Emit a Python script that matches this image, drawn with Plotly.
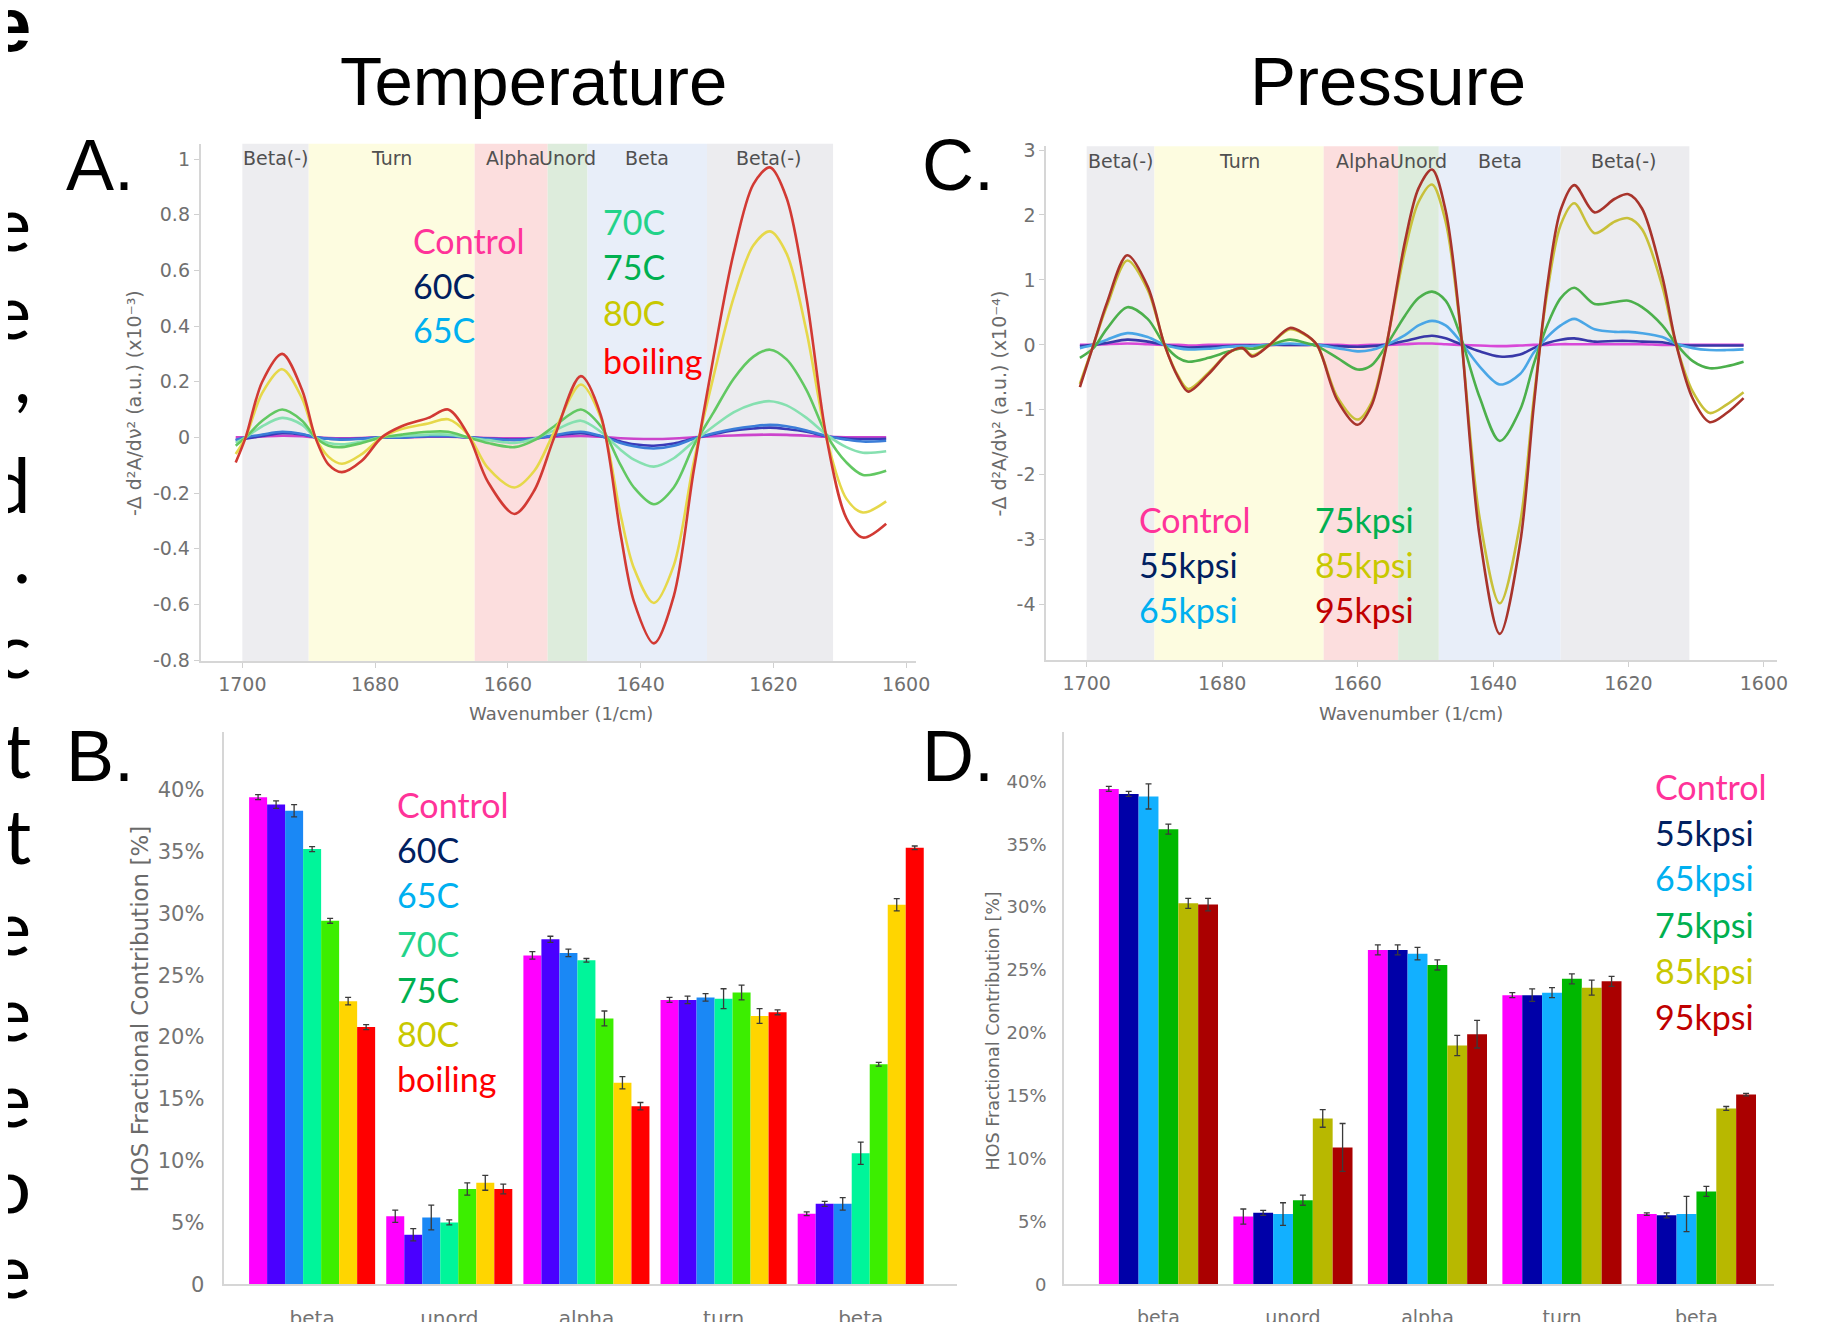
import plotly.graph_objects as go

W, H = 1840, 1322

# ---------------- DATA ----------------
WN_A = [1701, 1699.5, 1697, 1694, 1691, 1689, 1687, 1685, 1682, 1679, 1676, 1672, 1669, 1666, 1663, 1659,
        1656, 1653, 1649, 1646, 1643, 1641, 1638, 1635, 1632, 1629, 1626, 1623, 1620.5, 1618, 1615, 1612,
        1609, 1606.5, 1603]
temp_names = ["Control", "60C", "65C", "70C", "75C", "80C", "boiling"]
spec_control_T = [0.0, 0.0, 0.003, 0.006, 0.004, 0.0, -0.002, -0.003, -0.002, 0.0, 0.0, 0.002, 0.002, 0.0, -0.002,
                  -0.003, -0.002, 0.002, 0.005, 0.002, -0.003, -0.005, -0.006, -0.004, 0.0, 0.004, 0.007, 0.009,
                  0.01, 0.009, 0.006, 0.002, 0.0, 0.0, 0.0]
spec_60C = [-0.01, -0.005, 0.005, 0.015, 0.01, 0.0, -0.005, -0.006, -0.004, 0.0, 0.0, 0.004, 0.004, 0.0, -0.004,
            -0.008, -0.004, 0.006, 0.015, 0.004, -0.015, -0.025, -0.03, -0.022, -0.004, 0.012, 0.025, 0.032,
            0.035, 0.03, 0.02, 0.004, -0.004, -0.006, -0.005]
spec_65C = [-0.01, 0.0, 0.01, 0.02, 0.012, 0.0, -0.005, -0.008, -0.005, 0.0, 0.0, 0.005, 0.005, 0.0, -0.005,
            -0.01, -0.005, 0.008, 0.02, 0.005, -0.02, -0.032, -0.04, -0.03, -0.005, 0.015, 0.03, 0.04, 0.045,
            0.04, 0.025, 0.005, -0.008, -0.015, -0.012]
spec_70C = [-0.02, 0.0, 0.04, 0.07, 0.045, 0.0, -0.02, -0.025, -0.015, 0.0, 0.005, 0.01, 0.01, 0.0, -0.01,
            -0.02, -0.005, 0.025, 0.06, 0.02, -0.045, -0.08, -0.105, -0.075, -0.015, 0.04, 0.09, 0.12, 0.13,
            0.115, 0.07, 0.01, -0.035, -0.055, -0.05]
spec_75C = [-0.03, 0.0, 0.06, 0.10, 0.06, 0.0, -0.03, -0.035, -0.02, 0.0, 0.01, 0.02, 0.02, 0.0, -0.02, -0.035,
            -0.01, 0.04, 0.10, 0.04, -0.10, -0.18, -0.24, -0.18, -0.03, 0.09, 0.21, 0.29, 0.315, 0.28, 0.17,
            0.01, -0.09, -0.135, -0.12]
spec_80C = [-0.06, 0.0, 0.16, 0.245, 0.14, 0.0, -0.07, -0.095, -0.06, 0.0, 0.03, 0.05, 0.065, 0.01, -0.11,
            -0.18, -0.12, 0.02, 0.19, 0.07, -0.28, -0.47, -0.595, -0.46, -0.09, 0.22, 0.50, 0.69, 0.74, 0.66,
            0.38, 0.0, -0.22, -0.27, -0.23]
spec_boiling = [-0.09, 0.0, 0.20, 0.30, 0.17, 0.0, -0.098, -0.125, -0.084, 0.0, 0.04, 0.07, 0.10, 0.01, -0.16,
                -0.275, -0.19, 0.0, 0.22, 0.08, -0.35, -0.59, -0.74, -0.57, -0.12, 0.29, 0.66, 0.91, 0.97, 0.86,
                0.50, 0.0, -0.29, -0.36, -0.31]

WN_C = [1701, 1699, 1697, 1694, 1691, 1688.5, 1686.5, 1685, 1682, 1679, 1677, 1675.5, 1673, 1670, 1668, 1666,
        1663, 1660, 1658, 1656, 1653, 1651, 1649, 1647, 1645, 1642, 1639, 1636, 1634, 1632, 1630, 1628, 1625,
        1622, 1620, 1618, 1615, 1613, 1610.5, 1608, 1605.5, 1603]
pres_names = ["Control", "55kpsi", "65kpsi", "75kpsi", "85kpsi", "95kpsi"]
spec_control_P = [0.0, 0.0, 0.01, 0.02, 0.01, 0.0, 0.0, -0.01, 0.0, 0.0, 0.0, 0.0, 0.0, 0.0, 0.0, 0.0, 0.0, -0.01,
                  0.0, 0.0, 0.01, 0.02, 0.02, 0.01, 0.0, -0.01, -0.02, -0.01, 0.0, 0.0, 0.01, 0.01, 0.01, 0.01,
                  0.01, 0.01, 0.0, 0.0, 0.0, 0.0, 0.0, 0.0]
spec_55 = [-0.02, 0.0, 0.03, 0.08, 0.05, 0.0, -0.03, -0.04, -0.03, -0.02, -0.01, -0.01, 0.0, 0.0, 0.0, 0.0, -0.02,
           -0.03, -0.02, 0.0, 0.06, 0.11, 0.14, 0.1, 0.02, -0.1, -0.18, -0.15, -0.05, 0.03, 0.08, 0.1, 0.05, 0.06,
           0.06, 0.05, 0.04, 0.0, -0.01, -0.01, -0.01, -0.01]
spec_65 = [-0.05, 0.0, 0.08, 0.18, 0.12, 0.0, -0.05, -0.07, -0.06, -0.03, -0.02, -0.02, 0.0, 0.02, 0.01, 0.0, -0.05,
           -0.1, -0.08, -0.01, 0.15, 0.3, 0.37, 0.3, 0.08, -0.33, -0.61, -0.45, -0.12, 0.12, 0.3, 0.4, 0.24, 0.2,
           0.2, 0.18, 0.12, 0.02, -0.05, -0.08, -0.08, -0.07]
spec_75 = [-0.2, -0.05, 0.25, 0.58, 0.4, 0.0, -0.2, -0.26, -0.2, -0.1, -0.05, -0.06, 0.0, 0.08, 0.04, -0.02, -0.2,
           -0.38, -0.32, -0.05, 0.45, 0.72, 0.82, 0.68, 0.2, -0.8, -1.48, -1.0, -0.3, 0.3, 0.72, 0.88, 0.63, 0.66,
           0.68, 0.58, 0.3, 0.02, -0.25, -0.36, -0.33, -0.26]
spec_85 = [-0.6, 0.0, 0.6, 1.3, 0.85, 0.0, -0.48, -0.68, -0.43, -0.12, -0.05, -0.16, 0.0, 0.24, 0.17, 0.0, -0.8,
           -1.15, -0.9, -0.12, 1.45, 2.2, 2.47, 1.9, 0.42, -2.65, -3.98, -2.75, -0.85, 0.8, 1.85, 2.18, 1.72, 1.9,
           1.95, 1.78, 0.9, 0.02, -0.72, -1.05, -0.92, -0.73]
spec_95 = [-0.65, 0.0, 0.65, 1.38, 0.9, 0.0, -0.5, -0.72, -0.45, -0.12, -0.05, -0.18, 0.0, 0.26, 0.18, 0.0, -0.85,
           -1.23, -0.95, -0.15, 1.59, 2.41, 2.7, 2.07, 0.47, -2.93, -4.45, -3.06, -0.96, 0.9, 2.08, 2.46, 2.04,
           2.25, 2.32, 2.1, 1.05, 0.03, -0.83, -1.19, -1.05, -0.82]

band_names = ["Beta(-)", "Turn", "Alpha", "Unord", "Beta", "Beta(-)"]
band_edges = [(1700, 1690), (1690, 1665), (1665, 1654), (1654, 1648), (1648, 1630), (1630, 1611)]
band_label_pos = [1695, 1677.5, 1659.2, 1651.0, 1639, 1620.6]

categories = ["beta", "unord", "alpha", "turn", "beta"]
temp_frac = {
    "Control": [39.4, 5.5, 26.6, 23.0, 5.7],
    "60C": [38.8, 4.0, 27.9, 23.0, 6.5],
    "65C": [38.3, 5.4, 26.8, 23.2, 6.5],
    "70C": [35.2, 5.0, 26.2, 23.1, 10.6],
    "75C": [29.4, 7.7, 21.5, 23.6, 17.8],
    "80C": [22.9, 8.2, 16.3, 21.7, 30.7],
    "boiling": [20.8, 7.7, 14.4, 22.0, 35.3],
}
temp_err = {
    "Control": [0.2, 0.5, 0.3, 0.2, 0.15],
    "60C": [0.3, 0.5, 0.25, 0.3, 0.2],
    "65C": [0.5, 1.0, 0.3, 0.3, 0.5],
    "70C": [0.2, 0.2, 0.15, 0.8, 0.9],
    "75C": [0.2, 0.5, 0.6, 0.6, 0.15],
    "80C": [0.3, 0.6, 0.5, 0.6, 0.5],
    "boiling": [0.2, 0.4, 0.3, 0.2, 0.15],
}
pres_frac = {
    "Control": [39.4, 5.4, 26.6, 23.0, 5.6],
    "55kpsi": [39.0, 5.7, 26.6, 23.0, 5.5],
    "65kpsi": [38.8, 5.6, 26.3, 23.2, 5.6],
    "75kpsi": [36.2, 6.7, 25.4, 24.3, 7.4],
    "85kpsi": [30.3, 13.2, 19.0, 23.6, 14.0],
    "95kpsi": [30.2, 10.9, 19.9, 24.1, 15.1],
}
pres_err = {
    "Control": [0.2, 0.6, 0.4, 0.2, 0.1],
    "55kpsi": [0.2, 0.2, 0.4, 0.5, 0.2],
    "65kpsi": [1.0, 0.9, 0.5, 0.4, 1.4],
    "75kpsi": [0.4, 0.4, 0.4, 0.4, 0.4],
    "85kpsi": [0.4, 0.7, 0.8, 0.6, 0.15],
    "95kpsi": [0.5, 1.9, 1.1, 0.4, 0.1],
}

# ---------------- STYLE ----------------
TEXT_T = {"Control": "#ff3399", "60C": "#002060", "65C": "#00b0f0", "70C": "#22d38a",
          "75C": "#00b050", "80C": "#c8c800", "boiling": "#ff0000"}
TEXT_P = {"Control": "#ff3399", "55kpsi": "#002060", "65kpsi": "#00b0f0", "75kpsi": "#00b050",
          "85kpsi": "#c8c800", "95kpsi": "#c00000"}
LINE_T = {"Control": "#cc44cc", "60C": "#3a3ab8", "65C": "#3b7dd8", "70C": "#86e0b0",
          "75C": "#62c862", "80C": "#e6d84a", "boiling": "#d23a34"}
LINE_P = {"Control": "#d848d8", "55kpsi": "#3838a8", "65kpsi": "#4aa6e6", "75kpsi": "#4cb04c",
          "85kpsi": "#c8c03a", "95kpsi": "#a8342c"}
BAR_T = ["#ff00ff", "#4a00ff", "#1a88f5", "#00f59a", "#3cee00", "#ffd500", "#ff0000"]
BAR_P = ["#ff00ff", "#0000a8", "#12b0ff", "#00b800", "#b8b800", "#aa0000"]
BAND_COLORS = ["#ededf0", "#fdfce0", "#fcdede", "#ddecdc", "#e8eef9", "#ececef"]

TICKFONT = dict(family="DejaVu Sans", size=19, color="#707070")
AXLINE = "#d6d6d6"


def px(x):
    return x / W


def py(y):
    return 1 - y / H


fig = go.Figure()

# ---- spectra ----
specT = [spec_control_T, spec_60C, spec_65C, spec_70C, spec_75C, spec_80C, spec_boiling]
for name, vals in zip(temp_names, specT):
    fig.add_trace(go.Scatter(x=WN_A, y=vals, mode="lines", line=dict(color=LINE_T[name], width=2.6,
                                                                      shape="spline", smoothing=0.9),
                             xaxis="x", yaxis="y", showlegend=False))
specP = [spec_control_P, spec_55, spec_65, spec_75, spec_85, spec_95]
for name, vals in zip(pres_names, specP):
    fig.add_trace(go.Scatter(x=WN_C, y=vals, mode="lines", line=dict(color=LINE_P[name], width=2.6,
                                                                      shape="spline", smoothing=0.9),
                             xaxis="x3", yaxis="y3", showlegend=False))

# ---- bars ----
idx = list(range(len(categories)))
wB = 0.1313
for i, name in enumerate(temp_names):
    fig.add_trace(go.Bar(x=idx, y=temp_frac[name], width=wB, offset=-3.5 * wB + i * wB,
                         marker=dict(color=BAR_T[i], line=dict(width=0)),
                         error_y=dict(type="data", array=temp_err[name], color="#3a3a3a", thickness=1.3, width=3),
                         xaxis="x2", yaxis="y2", showlegend=False))
wD = 0.1476
for i, name in enumerate(pres_names):
    fig.add_trace(go.Bar(x=idx, y=pres_frac[name], width=wD, offset=-3 * wD + i * wD,
                         marker=dict(color=BAR_P[i], line=dict(width=0)),
                         error_y=dict(type="data", array=pres_err[name], color="#3a3a3a", thickness=1.3, width=3),
                         xaxis="x4", yaxis="y4", showlegend=False))

# ---- bands ----
shapes = []
for xr, yr in [("x", "y domain"), ("x3", "y3 domain")]:
    for (a, b), c in zip(band_edges, BAND_COLORS):
        shapes.append(dict(type="rect", xref=xr, yref=yr, x0=a, x1=b, y0=0, y1=1, fillcolor=c,
                           line=dict(width=0), layer="below"))

ann = []


def text(x, y, s, size, color="#000", family="Liberation Sans", xanchor="center", yanchor="middle",
         angle=0, xref="paper"):
    ann.append(dict(x=x, y=y, xref=xref, yref="paper", text=s, showarrow=False, xanchor=xanchor,
                    yanchor=yanchor, textangle=angle, font=dict(family=family, size=size, color=color)))


# band labels
for xr, ypix in [("x", 147), ("x3", 150)]:
    for nm, pos in zip(band_names, band_label_pos):
        text(pos, py(ypix), nm, 19, "#505050", "DejaVu Sans", xref=xr)

# titles
text(px(530), py(68), "Temperature", 69)
text(px(1391), py(68), "Pressure", 69)
for lab, x, y in [("A.", 56, 154), ("B.", 56, 760), ("C.", 919, 154), ("D.", 919, 760)]:
    text(px(x), py(y), lab, 72, xanchor="left")

# axis titles
text(px(557), py(716), "Wavenumber (1/cm)", 18, "#6a6a6a", "DejaVu Sans")
text(px(1414), py(716), "Wavenumber (1/cm)", 18, "#6a6a6a", "DejaVu Sans")
text(px(127), py(398), "-Δ d²A/dν² (a.u.) (x10⁻³)", 19, "#6a6a6a", "DejaVu Sans", angle=-90)
text(px(999), py(398), "-Δ d²A/dν² (a.u.) (x10⁻⁴)", 19, "#6a6a6a", "DejaVu Sans", angle=-90)
text(px(133), py(1019), "HOS Fractional Contribution [%]", 23, "#6a6a6a", "DejaVu Sans", angle=-90)
text(px(993), py(1042), "HOS Fractional Contribution [%]", 17.5, "#6a6a6a", "DejaVu Sans", angle=-90)

# legends (text labels)
LF = "Lato"
LS = 34
for nm, y in zip(["Control", "60C", "65C"], [231, 277, 323]):
    text(px(406), py(y), nm, LS, TEXT_T[nm], LF, xanchor="left")
for nm, y in zip(["70C", "75C", "80C", "boiling"], [212, 258, 305, 354]):
    text(px(598), py(y), nm, LS, TEXT_T[nm], LF, xanchor="left")
for nm, y in zip(["Control", "55kpsi", "65kpsi"], [517, 564, 610]):
    text(px(1138), py(y), nm, LS, TEXT_P[nm], LF, xanchor="left")
for nm, y in zip(["75kpsi", "85kpsi", "95kpsi"], [517, 564, 610]):
    text(px(1315), py(y), nm, LS, TEXT_P[nm], LF, xanchor="left")
for nm, y in zip(temp_names, [810, 856, 902, 952, 999, 1045, 1091]):
    text(px(390), py(y), nm, LS, TEXT_T[nm], LF, xanchor="left")
for nm, y in zip(pres_names, [791, 838, 885, 933, 980, 1027]):
    text(px(1658), py(y), nm, LS, TEXT_P[nm], LF, xanchor="left")

# cropped slide text at left edge
edge_letters = [("e", 10, True), ("e", 212, False), ("e", 302, False), (",", 368, False), ("d", 480, False),
                (".", 552, False), ("c", 650, False), ("t", 752, False), ("t", 840, False), ("e", 934, False),
                ("e", 1022, False), ("e", 1110, False), ("o", 1198, False), ("e", 1286, False)]
for ch, y, bold in edge_letters:
    s = f"<b>{ch}</b>" if bold else ch
    text(px(25), py(y), s, 76, "#000", "Liberation Sans" if bold else "Lato", xanchor="right")

common_x = dict(showgrid=False, zeroline=False, showline=True, linecolor=AXLINE, linewidth=1.5,
                tickfont=TICKFONT, ticks="outside", ticklen=5, tickcolor="#d0d0d0")

fig.update_layout(
    width=W, height=H, margin=dict(l=0, r=0, t=0, b=0), paper_bgcolor="white", plot_bgcolor="white",
    barmode="overlay", shapes=shapes, annotations=ann, showlegend=False,
    xaxis=dict(domain=[px(194), px(915)], range=[1706.3, 1598.5], tickvals=[1700, 1680, 1660, 1640, 1620, 1600],
               anchor="y", **common_x),
    yaxis=dict(domain=[py(663), py(132)], range=[-0.805, 1.055], anchor="x",
               tickvals=[-0.8, -0.6, -0.4, -0.2, 0, 0.2, 0.4, 0.6, 0.8, 1],
               ticktext=["-0.8", "-0.6", "-0.4", "-0.2", "0", "0.2", "0.4", "0.6", "0.8", "1"],
               **common_x),
    xaxis3=dict(domain=[px(1046), px(1783)], range=[1706.0, 1598.0],
                tickvals=[1700, 1680, 1660, 1640, 1620, 1600], anchor="y3", **common_x),
    yaxis3=dict(domain=[py(662), py(134.5)], range=[-4.86, 3.06], anchor="x3",
                tickvals=[-4, -3, -2, -1, 0, 1, 2, 3], ticktext=["-4", "-3", "-2", "-1", "0", "1", "2", "3"],
                **common_x),
    xaxis2=dict(domain=[px(218), px(956)], range=[-0.64, 4.70], anchor="y2", tickvals=idx, ticktext=categories,
                showgrid=False, zeroline=False, showline=True, linecolor=AXLINE, linewidth=1.5, ticks="",
                ticklabelstandoff=15, tickfont=dict(family="DejaVu Sans", size=20, color="#737373")),
    yaxis2=dict(domain=[py(1301.7), py(735)], range=[0, 44.7], anchor="x2",
                tickvals=[0, 5, 10, 15, 20, 25, 30, 35, 40],
                ticktext=["0", "5%", "10%", "15%", "20%", "25%", "30%", "35%", "40%"],
                showgrid=False, zeroline=False, showline=True, linecolor=AXLINE, linewidth=1.5, ticks="",
                ticklabelstandoff=14, tickfont=dict(family="DejaVu Sans", size=21, color="#737373")),
    xaxis4=dict(domain=[px(1064), px(1780)], range=[-0.703, 4.58], anchor="y4", tickvals=idx,
                ticktext=categories, showgrid=False, zeroline=False, showline=True, linecolor=AXLINE,
                linewidth=1.5, ticks="", ticklabelstandoff=15,
                tickfont=dict(family="DejaVu Sans", size=19, color="#737373")),
    yaxis4=dict(domain=[py(1302), py(735)], range=[0, 43.95], anchor="x4",
                tickvals=[0, 5, 10, 15, 20, 25, 30, 35, 40],
                ticktext=["0", "5%", "10%", "15%", "20%", "25%", "30%", "35%", "40%"],
                showgrid=False, zeroline=False, showline=True, linecolor=AXLINE, linewidth=1.5, ticks="",
                ticklabelstandoff=12, tickfont=dict(family="DejaVu Sans", size=18, color="#737373")),
)

fig.write_html("out.html")
